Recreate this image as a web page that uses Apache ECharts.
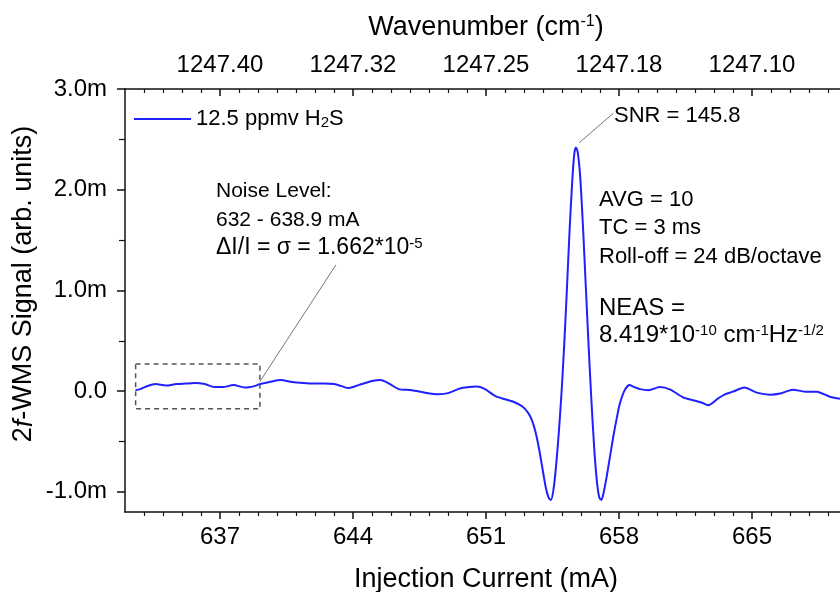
<!DOCTYPE html>
<html>
<head>
<meta charset="utf-8">
<script src="https://cdn.jsdelivr.net/npm/echarts@6.0.0/dist/echarts.min.js"></script>
<style>
html, body { margin: 0; padding: 0; background: #fff; }
#chart { width: 840px; height: 592px; }
</style>
</head>
<body>
<div id="chart"></div>
<script>
// injection current (mA) and 2f-WMS signal (in m = 10^-3 arb. units)
const currentMA = [
  632.55, 632.8, 633.1, 633.6, 634.15, 634.7, 635.2, 635.65, 636.2, 636.7,
  637.15, 637.7, 638.35, 638.8, 639.1, 639.6, 640.2, 640.8, 641.4, 641.9,
  642.5, 643.0, 643.4, 643.75, 644.3, 645.0, 645.45, 645.9, 646.4, 647.1,
  647.8, 648.5, 649.0, 649.6, 650.1, 650.5, 650.9, 651.5, 652.0, 652.5,
  652.9, 653.2, 653.4, 653.6, 653.8, 654.0, 654.15, 654.3, 654.42, 654.55,
  654.68, 654.82, 654.96, 655.1, 655.25, 655.4, 655.55, 655.65, 655.73, 655.82,
  655.95, 656.1, 656.25, 656.4, 656.55, 656.7, 656.85, 656.97, 657.07, 657.2,
  657.35, 657.5, 657.7, 657.9, 658.05, 658.3, 658.55, 658.8, 659.1, 659.55,
  660.15, 660.7, 661.4, 661.9, 662.3, 662.7, 663.2, 663.6, 664.0, 664.6,
  665.25, 665.95, 666.55, 667.15, 667.8, 668.4, 669.1, 669.65, 670.0
]
const signalM = [
  0.01, 0.02, 0.045, 0.07, 0.055, 0.07, 0.075, 0.08, 0.07, 0.04,
  0.04, 0.06, 0.035, 0.05, 0.07, 0.09, 0.11, 0.09, 0.08, 0.075,
  0.075, 0.07, 0.05, 0.03, 0.06, 0.10, 0.11, 0.075, 0.02, 0.01,
  -0.015, -0.03, -0.02, 0.025, 0.04, 0.045, 0.025, -0.05, -0.08, -0.11,
  -0.15, -0.21, -0.28, -0.40, -0.58, -0.80, -0.96, -1.06, -1.08, -0.98,
  -0.76, -0.44, -0.06, 0.40, 0.98, 1.60, 2.12, 2.36, 2.42, 2.38,
  2.15, 1.65, 1.05, 0.45, -0.10, -0.58, -0.92, -1.06, -1.08, -1.00,
  -0.85, -0.68, -0.45, -0.25, -0.12, 0.01, 0.06, 0.04, 0.02, 0.01,
  0.04, 0.015, -0.065, -0.09, -0.11, -0.14, -0.075, -0.03, -0.005, 0.035,
  -0.015, -0.035, -0.02, 0.015, -0.005, -0.005, -0.055, -0.075, -0.08
]

const majorTicks = [637, 644, 651, 658, 665]
const wavenumberLabels = ['1247.40', '1247.32', '1247.25', '1247.18', '1247.10']
const yTicks = [-1, 0, 1, 2, 3]
const yTickLabels = ['-1.0m', '0.0', '1.0m', '2.0m', '3.0m']
const yMinorTicks = [-0.5, 0.5, 1.5, 2.5]

// dashed noise window and the two leader lines, in data units
const noiseBox = [[632.56, 0.27], [639.1, -0.176]]
const noiseLeader = [[639.1, 0.095], [643.1, 1.253]]
const snrLeader = [[655.91, 2.467], [657.7, 2.759]]

const minorTicks = []
for (let v = 633; v < 670; v++) {
  if (!majorTicks.includes(v)) minorTicks.push(v)
}

const FONT = 'Liberation Sans, Arial, sans-serif'
const AXIS_COLOR = '#111'
const LINE_COLOR = '#1f1fff'

const chart = echarts.init(document.getElementById('chart'), null, { renderer: 'canvas' })

const gridBox = { left: 125, top: 89, right: -7, bottom: 80, outerBoundsMode: 'none' }
const axisLine = { show: true, onZero: false, lineStyle: { color: AXIS_COLOR, width: 1.5 } }
const noLine = { show: false, onZero: false }

function textEl(left, top, text, size, rich) {
  return {
    type: 'text',
    left,
    top,
    silent: true,
    style: {
      text,
      fontSize: size,
      fontFamily: FONT,
      fill: '#000',
      rich: rich || {}
    }
  }
}

const supStyle = (size) => ({ fontSize: size, fontFamily: FONT, fill: '#000', verticalAlign: 'top', padding: [0, 0, 8, 0] })

const option = {
  animation: false,
  backgroundColor: '#fff',
  grid: [gridBox, gridBox],
  legend: {
    left: 129,
    top: 103,
    itemWidth: 57,
    itemHeight: 2,
    itemGap: 8,
    data: [{ name: '12.5 ppmv H2S', icon: 'rect' }],
    formatter: () => '12.5 ppmv H{sub|2}S',
    textStyle: {
      fontSize: 22,
      fontFamily: FONT,
      color: '#000',
      rich: {
        sub: { fontSize: 15, fontFamily: FONT, color: '#000', verticalAlign: 'bottom', padding: [8, 0, 0, 0] }
      }
    }
  },
  xAxis: [
    {
      type: 'value', gridIndex: 0, position: 'bottom', min: 632, max: 670,
      axisLine,
      splitLine: { show: false },
      axisTick: { show: true, inside: false, length: 7, customValues: majorTicks, lineStyle: { color: AXIS_COLOR, width: 1.5 } },
      axisLabel: { customValues: majorTicks, fontSize: 24, fontFamily: FONT, color: '#000', margin: 13 },
      name: 'Injection Current (mA)',
      nameLocation: 'middle',
      nameGap: 54,
      nameTextStyle: { fontSize: 27, fontFamily: FONT, color: '#000' }
    },
    {
      type: 'value', gridIndex: 0, position: 'top', min: 632, max: 670,
      axisLine,
      splitLine: { show: false },
      axisTick: { show: true, inside: true, length: 7, customValues: majorTicks, lineStyle: { color: AXIS_COLOR, width: 1.5 } },
      axisLabel: {
        customValues: majorTicks,
        formatter: (v) => wavenumberLabels[majorTicks.indexOf(v)],
        fontSize: 24, fontFamily: FONT, color: '#000', margin: 12
      },
      name: 'Wavenumber (cm{sup|-1})',
      nameLocation: 'middle',
      nameGap: 48,
      nameTextStyle: {
        fontSize: 27, fontFamily: FONT, color: '#000',
        rich: { sup: supStyle(16) }
      }
    },
    {
      type: 'value', gridIndex: 1, position: 'bottom', min: 632, max: 670,
      axisLine: noLine,
      splitLine: { show: false },
      axisTick: { show: true, inside: false, length: 4, customValues: minorTicks, lineStyle: { color: AXIS_COLOR, width: 1.2 } },
      axisLabel: { show: false }
    },
    {
      type: 'value', gridIndex: 1, position: 'top', min: 632, max: 670,
      axisLine: noLine,
      splitLine: { show: false },
      axisTick: { show: true, inside: true, length: 4, customValues: minorTicks, lineStyle: { color: AXIS_COLOR, width: 1.2 } },
      axisLabel: { show: false }
    }
  ],
  yAxis: [
    {
      type: 'value', gridIndex: 0, position: 'left', min: -1.2, max: 3.0,
      axisLine,
      splitLine: { show: false },
      axisTick: { show: true, inside: false, length: 8, customValues: yTicks, lineStyle: { color: AXIS_COLOR, width: 1.5 } },
      axisLabel: {
        customValues: yTicks,
        formatter: (v) => yTickLabels[yTicks.indexOf(v)],
        fontSize: 24, fontFamily: FONT, color: '#000', margin: 18
      }
    },
    {
      type: 'value', gridIndex: 1, position: 'left', min: -1.2, max: 3.0,
      axisLine: noLine,
      splitLine: { show: false },
      axisTick: { show: true, inside: false, length: 6, customValues: yMinorTicks, lineStyle: { color: AXIS_COLOR, width: 1.2 } },
      axisLabel: { show: false }
    }
  ],
  series: [
    {
      name: '12.5 ppmv H2S',
      type: 'line',
      xAxisIndex: 0,
      yAxisIndex: 0,
      data: currentMA.map((x, i) => [x, signalM[i]]),
      symbol: 'none',
      smooth: 0.25,
      lineStyle: { color: LINE_COLOR, width: 2 },
      itemStyle: { color: LINE_COLOR },
      markArea: {
        silent: true,
        itemStyle: { color: 'rgba(0,0,0,0)', borderColor: '#555', borderWidth: 1.5, borderType: [5, 4] },
        data: [[{ coord: noiseBox[0] }, { coord: noiseBox[1] }]]
      },
      markLine: {
        silent: true,
        symbol: 'none',
        label: { show: false },
        lineStyle: { color: '#777', width: 1, type: 'solid' },
        data: [
          [{ coord: noiseLeader[0] }, { coord: noiseLeader[1] }],
          [{ coord: snrLeader[0] }, { coord: snrLeader[1] }]
        ]
      }
    }
  ],
  graphic: [
    {
      type: 'text',
      x: 24,
      y: 284,
      rotation: Math.PI / 2,
      silent: true,
      style: {
        text: '2{it|f}-WMS Signal (arb. units)',
        fontSize: 27,
        fontFamily: FONT,
        fill: '#000',
        align: 'center',
        verticalAlign: 'middle',
        rich: { it: { fontSize: 27, fontFamily: FONT, fill: '#000', fontStyle: 'italic' } }
      }
    },
    textEl(614, 105, 'SNR = 145.8', 22),
    textEl(599, 189, 'AVG = 10', 22),
    textEl(599, 217, 'TC = 3 ms', 22),
    textEl(599, 246, 'Roll-off = 24 dB/octave', 22),
    textEl(599, 296, 'NEAS =', 24),
    textEl(599, 323, '8.419*10{sup|-10} cm{sup|-1}Hz{sup|-1/2}', 24, { sup: supStyle(15) }),
    textEl(216, 181, 'Noise Level:', 21),
    textEl(216, 210, '632 - 638.9 mA', 21),
    textEl(216, 236, 'ΔI/I = σ = 1.662*10{sup|-5}', 23, { sup: supStyle(15) })
  ]
}

chart.setOption(option)
</script>
</body>
</html>
